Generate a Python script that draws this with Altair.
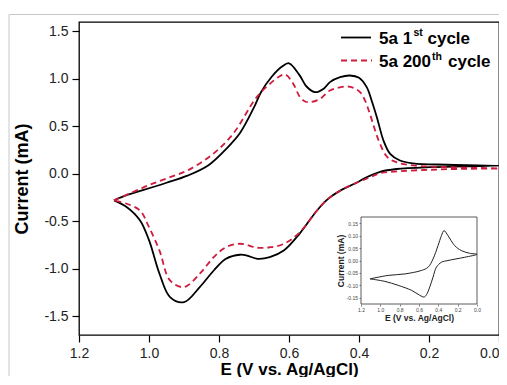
import altair as alt
import pandas as pd

# ---------------- data ----------------
# 5a 1st cycle: E (V vs Ag/AgCl) and current (mA), along the scan path
c1_E = [1.10, 1.06, 1.02, 0.95, 0.89, 0.83, 0.78, 0.74, 0.70, 0.68, 0.65, 0.62, 0.60,
        0.57, 0.55, 0.525, 0.50, 0.483, 0.454, 0.426, 0.40, 0.378, 0.364, 0.349, 0.33,
        0.311, 0.283, 0.246, 0.15, 0.0,
        0.10, 0.197, 0.293, 0.34, 0.38, 0.41, 0.45, 0.49, 0.52, 0.57, 0.615, 0.655,
        0.69, 0.72, 0.74, 0.78, 0.815, 0.855, 0.90, 0.94, 0.97, 1.00, 1.026, 1.064, 1.10]
c1_I = [-0.28, -0.22, -0.176, -0.095, -0.02, 0.09, 0.26, 0.43, 0.70, 0.86, 1.02, 1.13, 1.165,
        1.04, 0.92, 0.86, 0.90, 0.966, 1.018, 1.036, 1.012, 0.913, 0.773, 0.597, 0.35,
        0.21, 0.14, 0.11, 0.095, 0.085,
        0.078, 0.07, 0.05, 0.02, -0.04, -0.10, -0.17, -0.27, -0.387, -0.633, -0.81, -0.88,
        -0.897, -0.862, -0.854, -0.896, -1.02, -1.195, -1.354, -1.30, -1.054, -0.70, -0.49, -0.35, -0.28]

# 5a 200th cycle
c200_E = [1.10, 1.05, 1.00, 0.95, 0.89, 0.82, 0.76, 0.70, 0.68, 0.654, 0.63, 0.611, 0.588,
          0.569, 0.554, 0.54, 0.511, 0.483, 0.435, 0.416, 0.397, 0.383, 0.369, 0.354, 0.34,
          0.319, 0.293, 0.246, 0.15, 0.0,
          0.10, 0.197, 0.283, 0.34, 0.37, 0.41, 0.45, 0.49, 0.52, 0.57, 0.615, 0.655,
          0.69, 0.74, 0.78, 0.815, 0.855, 0.90, 0.94, 0.97, 1.00, 1.026, 1.064, 1.10]
c200_I = [-0.28, -0.20, -0.12, -0.05, 0.035, 0.20, 0.42, 0.77, 0.86, 0.95, 1.02, 1.047, 0.95,
          0.81, 0.762, 0.755, 0.79, 0.878, 0.92, 0.906, 0.86, 0.773, 0.633, 0.457, 0.316,
          0.175, 0.122, 0.088, 0.07, 0.055,
          0.052, 0.042, 0.027, 0.006, -0.04, -0.10, -0.17, -0.27, -0.387, -0.62, -0.74, -0.775,
          -0.78, -0.738, -0.774, -0.879, -1.054, -1.195, -1.125, -0.81, -0.563, -0.387, -0.316, -0.28]

# inset CV
inset_E = [1.107, 0.919, 0.746, 0.574, 0.506, 0.455, 0.403, 0.368, 0.341, 0.30, 0.231, 0.162,
           0.076, 0.0,
           0.128, 0.30, 0.368, 0.42, 0.455, 0.489, 0.523, 0.547, 0.592, 0.677, 0.815, 0.953, 1.107]
inset_I = [-0.074, -0.060, -0.054, -0.040, -0.027, 0.006, 0.060, 0.100, 0.120, 0.100, 0.060, 0.040,
           0.029, 0.025,
           0.013, 0.000, -0.007, -0.027, -0.067, -0.107, -0.138, -0.147, -0.140, -0.120, -0.100, -0.084, -0.074]

x_ticks = [1.2, 1.1, 1.0, 0.9, 0.8, 0.7, 0.6, 0.5, 0.4, 0.3, 0.2, 0.1, 0.0]
y_ticks = [-1.5, -1.25, -1.0, -0.75, -0.5, -0.25, 0.0, 0.25, 0.5, 0.75, 1.0, 1.25, 1.5]
inset_x_ticks = [1.2, 1.0, 0.8, 0.6, 0.4, 0.2, 0.0]
inset_y_ticks = [-0.15, -0.10, -0.05, 0.0, 0.05, 0.10, 0.15]

legend_text = ["5a 1", "5a 200"]
legend_sup = ["st", "th"]

FONT = "Liberation Sans"
RED = "#d01c3c"

# ---------------- frames ----------------
df1 = pd.DataFrame({"E": c1_E, "I": c1_I, "i": range(len(c1_E))})
df200 = pd.DataFrame({"E": c200_E, "I": c200_I, "i": range(len(c200_E))})
dfin = pd.DataFrame({"E": inset_E, "I": inset_I, "i": range(len(inset_E))})

xscale = alt.Scale(domain=[0, 1.2], reverse=True, nice=False, zero=False)
yscale = alt.Scale(domain=[-1.7, 1.6], nice=False, zero=False)

x_axis = alt.Axis(
    values=x_ticks, title="E (V vs. Ag/AgCl)", grid=False, domain=False,
    labelExpr="round(datum.value*10) % 2 === 0 ? format(datum.value, '.1f') : ''",
    labelAlign={"condition": {"test": "datum.value === 0", "value": "right"}, "value": "center"},
    tickSize={"condition": {"test": "round(datum.value*10) % 2 === 0", "value": 7}, "value": 4},
    tickColor="black", tickWidth=1.2, labelFontSize=14, labelColor="#222",
    labelPadding=4, labelFlush=False, labelOverlap=False,
    titleFontSize=17, titleFontWeight="bold", titlePadding=1, titleColor="black",
)
y_axis = alt.Axis(
    values=y_ticks, title="Current (mA)", grid=False, domain=False,
    labelExpr="round(datum.value*4) % 2 === 0 ? (datum.value < 0 ? '-' + format(-datum.value, '.1f') : format(datum.value, '.1f')) : ''",
    tickSize={"condition": {"test": "round(datum.value*4) % 2 === 0", "value": 7}, "value": 4},
    tickColor="black", tickWidth=1.2, labelFontSize=14, labelColor="#222",
    labelPadding=4, labelOverlap=False,
    titleFontSize=18, titleFontWeight="bold", titlePadding=12, titleColor="black",
)

line1 = alt.Chart(df1).mark_line(color="black", strokeWidth=1.8, interpolate="catmull-rom").encode(
    x=alt.X("E:Q", scale=xscale, axis=x_axis),
    y=alt.Y("I:Q", scale=yscale, axis=y_axis),
    order="i:Q",
)
line200 = alt.Chart(df200).mark_line(color=RED, strokeWidth=1.8, strokeDash=[6, 4],
                                     interpolate="catmull-rom").encode(
    x=alt.X("E:Q"), y=alt.Y("I:Q"), order="i:Q",
)

# legend
leg_df = pd.DataFrame({"t": legend_text, "s": legend_sup, "row": [0, 1]})
leg_line1 = alt.Chart(leg_df).transform_filter("datum.row == 0").mark_rule(
    color="black", strokeWidth=1.8).encode(x=alt.value(262), x2=alt.value(292), y=alt.value(15.5))
leg_line2 = alt.Chart(leg_df).transform_filter("datum.row == 1").mark_rule(
    color=RED, strokeWidth=1.8, strokeDash=[6, 4]).encode(x=alt.value(262), x2=alt.value(293), y=alt.value(38.5))
leg_t1 = alt.Chart(leg_df).transform_filter("datum.row == 0").mark_text(
    align="left", baseline="alphabetic", font=FONT, fontWeight="bold", fontSize=17, color="black"
).encode(x=alt.value(300), y=alt.value(21.5), text="t:N")
leg_t2 = alt.Chart(leg_df).transform_filter("datum.row == 1").mark_text(
    align="left", baseline="alphabetic", font=FONT, fontWeight="bold", fontSize=17, color="black"
).encode(x=alt.value(300), y=alt.value(45), text="t:N")
leg_s1 = alt.Chart(leg_df).transform_filter("datum.row == 0").mark_text(
    align="left", baseline="alphabetic", font=FONT, fontWeight="bold", fontSize=10.5, color="black"
).encode(x=alt.value(334.5), y=alt.value(14), text="s:N")
leg_s2 = alt.Chart(leg_df).transform_filter("datum.row == 1").mark_text(
    align="left", baseline="alphabetic", font=FONT, fontWeight="bold", fontSize=10.5, color="black"
).encode(x=alt.value(353), y=alt.value(37.5), text="s:N")
leg_c1 = alt.Chart(leg_df).transform_filter("datum.row == 0").mark_text(
    align="left", baseline="alphabetic", font=FONT, fontWeight="bold", fontSize=17, color="black",
    text="cycle").encode(x=alt.value(348.5), y=alt.value(21.5))
leg_c2 = alt.Chart(leg_df).transform_filter("datum.row == 1").mark_text(
    align="left", baseline="alphabetic", font=FONT, fontWeight="bold", fontSize=17, color="black",
    text="cycle").encode(x=alt.value(369), y=alt.value(45))

# light outer border of the original figure
border_v = alt.Chart(leg_df).transform_filter("datum.row == 0").mark_rule(
    color="#c8c8c8", strokeWidth=1).encode(x=alt.value(-70), y=alt.value(-7.5), y2=alt.value(354))
border_h = alt.Chart(leg_df).transform_filter("datum.row == 0").mark_rule(
    color="#c8c8c8", strokeWidth=1).encode(x=alt.value(-70), x2=alt.value(420), y=alt.value(-7.5))

main = alt.layer(border_v, border_h, line1, line200, leg_line1, leg_line2,
                 leg_t1, leg_t2, leg_s1, leg_s2, leg_c1, leg_c2)

# ---------------- inset ----------------
ixscale = alt.Scale(domain=[0, 1.2], range=[398, 282], nice=False, zero=False)
iyscale = alt.Scale(domain=[-0.175, 0.175], range=[282, 195], nice=False, zero=False)

ix_axis = alt.Axis(
    orient="bottom", offset=-31, values=inset_x_ticks, title="E (V vs. Ag/AgCl)",
    grid=False, domain=False, format=".1f", tickSize=2, tickColor="#333", tickWidth=0.6,
    labelFontSize=5, labelColor="#444", labelPadding=1, labelFlush=False, labelOverlap=False,
    titleFontSize=8.5, titleFontWeight="bold", titlePadding=1, titleColor="#222",
)
iy_axis = alt.Axis(
    orient="left", offset=-282, values=inset_y_ticks, title="Current (mA)",
    grid=False, domain=False, tickSize=2, tickColor="#333", tickWidth=0.6,
    labelExpr="datum.value < 0 ? '-' + format(-datum.value, '.2f') : format(datum.value, '.2f')",
    labelFontSize=5, labelColor="#444", labelPadding=1.5, labelOverlap=False,
    titleFontSize=8.5, titleFontWeight="bold", titlePadding=1, titleColor="#222",
)

frame_df = pd.DataFrame({"x": [1.2], "x2": [0.0], "y": [-0.175], "y2": [0.175]})
inset_frame = alt.Chart(frame_df).mark_rect(fill="white", stroke="#333", strokeWidth=0.8).encode(
    x=alt.X("x:Q", scale=ixscale, axis=ix_axis),
    x2="x2:Q",
    y=alt.Y("y:Q", scale=iyscale, axis=iy_axis),
    y2="y2:Q",
)
inset_line = alt.Chart(dfin).mark_line(color="#222", strokeWidth=1.0, interpolate="catmull-rom").encode(
    x=alt.X("E:Q"), y=alt.Y("I:Q"), order="i:Q",
)
inset = alt.layer(inset_frame, inset_line)

chart = alt.layer(main, inset).resolve_scale(x="independent", y="independent").properties(
    width=420, height=313,
    padding={"left": 71, "top": 14, "right": 0, "bottom": 42},
    autosize=alt.AutoSizeParams(type="none"),
).configure_view(stroke="black", strokeWidth=1.3).configure_axis(
    labelFont=FONT, titleFont=FONT
)

chart.save("out.html", embed_options={"renderer": "svg", "actions": False})
